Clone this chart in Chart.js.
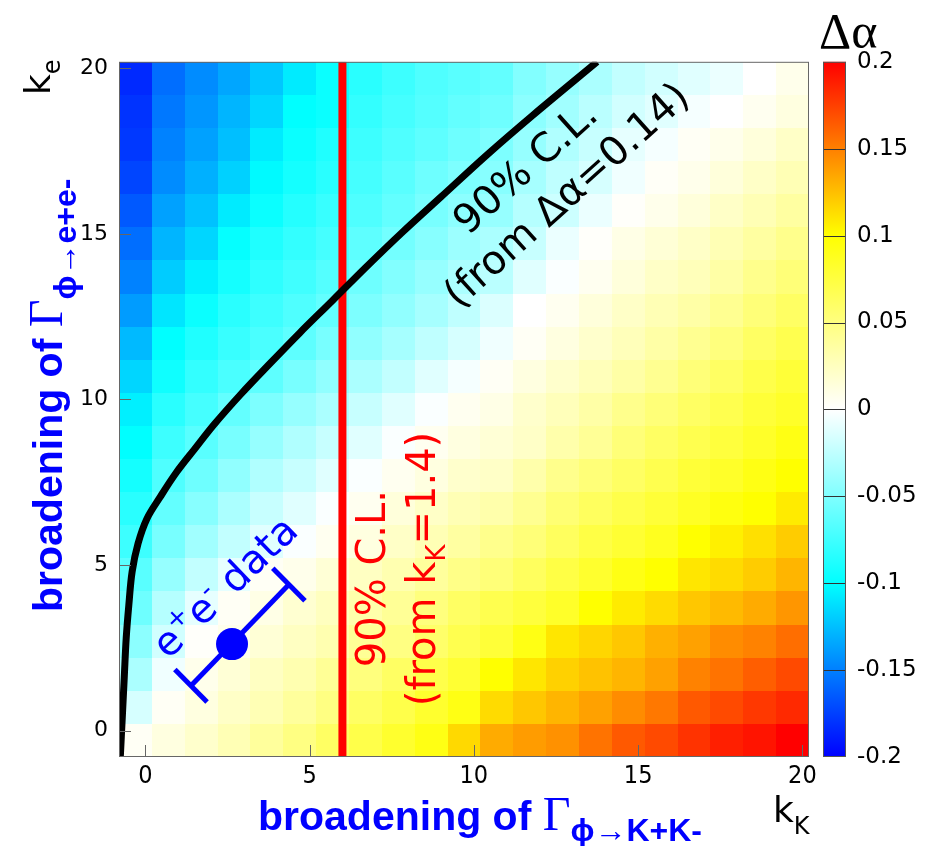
<!DOCTYPE html>
<html lang="en">
<head>
    <meta charset="UTF-8">
    <title>Delta alpha vs broadening</title>
    <script src="https://cdn.jsdelivr.net/npm/chart.js@4.4.1/dist/chart.umd.min.js"></script>
    <style>
        body { margin: 0; background: #fff; }
        canvas { display: block; }
    </style>
</head>
<body>
    <canvas id="chart" width="937" height="846"></canvas>

    <script>
        // bin centres of the scan (width 1 in both directions)
        const kKBins = [-0.3, 0.7, 1.7, 2.7, 3.7, 4.7, 5.7, 6.7, 7.7, 8.7, 9.7,
                        10.7, 11.7, 12.7, 13.7, 14.7, 15.7, 16.7, 17.7, 18.7, 19.7];
        const kEBins = [19.7, 18.7, 17.7, 16.7, 15.7, 14.7, 13.7, 12.7, 11.7, 10.7, 9.7,
                        8.7, 7.7, 6.7, 5.7, 4.7, 3.7, 2.7, 1.7, 0.7, -0.3];
        const binWidth = 1;

        // delta alpha per bin, one row per kEBins entry (top row first)
        const dAlpha = [
            [-0.184,-0.157,-0.145,-0.135,-0.122,-0.108,-0.096,-0.084,-0.076,-0.069,-0.065,-0.061,-0.049,-0.041,-0.033,-0.024,-0.018,-0.012,-0.008,0.000,0.008],
            [-0.180,-0.153,-0.141,-0.129,-0.116,-0.100,-0.096,-0.080,-0.073,-0.067,-0.061,-0.057,-0.045,-0.037,-0.027,-0.018,-0.012,-0.004,0.000,0.006,0.012],
            [-0.178,-0.149,-0.137,-0.125,-0.108,-0.096,-0.088,-0.076,-0.069,-0.063,-0.057,-0.051,-0.041,-0.031,-0.022,-0.010,-0.004,0.004,0.008,0.014,0.022],
            [-0.173,-0.145,-0.131,-0.118,-0.102,-0.092,-0.084,-0.073,-0.065,-0.057,-0.051,-0.047,-0.035,-0.025,-0.016,-0.006,0.003,0.008,0.014,0.022,0.029],
            [-0.165,-0.137,-0.124,-0.108,-0.096,-0.086,-0.078,-0.069,-0.061,-0.053,-0.045,-0.041,-0.029,-0.020,-0.008,0.002,0.008,0.014,0.022,0.029,0.037],
            [-0.157,-0.129,-0.116,-0.098,-0.088,-0.080,-0.073,-0.063,-0.055,-0.047,-0.039,-0.033,-0.022,-0.008,0.002,0.010,0.016,0.022,0.029,0.037,0.045],
            [-0.149,-0.120,-0.106,-0.092,-0.082,-0.075,-0.067,-0.057,-0.049,-0.041,-0.033,-0.027,-0.012,-0.002,0.006,0.014,0.022,0.027,0.035,0.045,0.053],
            [-0.139,-0.110,-0.096,-0.084,-0.076,-0.069,-0.061,-0.051,-0.043,-0.035,-0.025,-0.014,0.000,0.006,0.014,0.022,0.029,0.035,0.043,0.053,0.061],
            [-0.127,-0.100,-0.088,-0.078,-0.071,-0.063,-0.053,-0.043,-0.035,-0.025,-0.016,-0.006,0.004,0.012,0.020,0.027,0.035,0.043,0.051,0.061,0.069],
            [-0.116,-0.094,-0.080,-0.071,-0.063,-0.053,-0.043,-0.033,-0.024,-0.012,-0.004,0.004,0.012,0.020,0.027,0.035,0.043,0.053,0.061,0.071,0.078],
            [-0.106,-0.084,-0.073,-0.061,-0.051,-0.041,-0.033,-0.022,-0.012,-0.002,0.006,0.010,0.020,0.027,0.035,0.045,0.053,0.061,0.069,0.078,0.084],
            [-0.100,-0.076,-0.065,-0.053,-0.041,-0.031,-0.022,-0.012,-0.002,0.006,0.012,0.016,0.022,0.033,0.041,0.053,0.061,0.069,0.076,0.084,0.092],
            [-0.092,-0.069,-0.057,-0.043,-0.031,-0.022,-0.012,-0.002,0.006,0.012,0.020,0.022,0.033,0.045,0.053,0.061,0.069,0.078,0.084,0.092,0.100],
            [-0.084,-0.061,-0.047,-0.033,-0.022,-0.012,-0.002,0.006,0.014,0.022,0.029,0.033,0.043,0.055,0.063,0.071,0.078,0.086,0.094,0.100,0.108],
            [-0.076,-0.053,-0.037,-0.024,-0.012,-0.002,0.006,0.012,0.022,0.029,0.037,0.045,0.053,0.063,0.073,0.080,0.088,0.100,0.106,0.112,0.120],
            [-0.065,-0.041,-0.024,-0.010,0.004,0.008,0.016,0.024,0.031,0.039,0.047,0.053,0.063,0.073,0.082,0.092,0.100,0.110,0.114,0.120,0.129],
            [-0.057,-0.029,-0.010,0.004,0.010,0.018,0.025,0.033,0.041,0.051,0.061,0.069,0.076,0.084,0.100,0.108,0.114,0.122,0.127,0.133,0.141],
            [-0.045,-0.018,0.002,0.008,0.016,0.024,0.031,0.041,0.049,0.059,0.069,0.078,0.092,0.110,0.116,0.122,0.131,0.137,0.145,0.149,0.157],
            [-0.033,-0.006,0.008,0.016,0.024,0.031,0.041,0.051,0.061,0.071,0.080,0.100,0.110,0.118,0.124,0.129,0.137,0.149,0.155,0.163,0.171],
            [-0.016,0.004,0.012,0.022,0.029,0.039,0.049,0.061,0.071,0.082,0.092,0.114,0.122,0.129,0.137,0.145,0.153,0.165,0.171,0.178,0.184],
            [0.004,0.012,0.020,0.029,0.039,0.049,0.061,0.071,0.082,0.092,0.115,0.133,0.139,0.143,0.155,0.165,0.171,0.180,0.188,0.192,0.200]
        ];

        const xTicks = [0, 5, 10, 15, 20];
        const yTicks = [0, 5, 10, 15, 20];
        const zTicks = [-0.2, -0.15, -0.1, -0.05, 0, 0.05, 0.1, 0.15, 0.2];

        // colour palette: blue -> cyan -> white -> yellow -> red
        const paletteVals = [-0.2, -0.1, 0, 0.1, 0.2];
        const paletteRGB = [[0, 0, 255], [0, 255, 255], [255, 255, 255], [255, 255, 0], [255, 0, 0]];

        // 90% C.L. contour from delta alpha = 0.14
        const clKK = [-0.76, -0.70, -0.64, -0.58, -0.50, -0.40, -0.22, 0.05, 0.45, 0.95, 1.50, 2.10,
                      2.90, 3.75, 4.70, 5.70, 6.70, 7.80, 9.00, 10.40, 11.80, 13.75];
        const clKE = [-0.80, 0.40, 1.60, 2.80, 3.80, 4.80, 5.65, 6.40, 7.05, 7.80, 8.50, 9.25,
                      10.15, 11.04, 12.01, 12.99, 13.98, 15.03, 16.12, 17.39, 18.59, 20.20];

        // 90% C.L. limit on kK
        const kKLimit = 6.0;

        // e+e- data point with its error bar along the diagonal
        const eePoint = { x: 2.64, y: 2.61 };
        const eeErrLo = { x: 1.39, y: 1.35 };
        const eeErrHi = { x: 4.37, y: 4.41 };
        const capHalf = 0.49;

        const axisMin = -0.8, axisMax = 20.2;

        function colourFor(v) {
            v = Math.max(paletteVals[0], Math.min(paletteVals[paletteVals.length - 1], v));
            let i = 0;
            while (i < paletteVals.length - 2 && v > paletteVals[i + 1]) i++;
            const t = (v - paletteVals[i]) / (paletteVals[i + 1] - paletteVals[i]);
            const a = paletteRGB[i], b = paletteRGB[i + 1];
            const c = a.map((ch, k) => Math.round(ch + (b[k] - ch) * t));
            return `rgb(${c[0]},${c[1]},${c[2]})`;
        }

        // draw a line of text made of runs (font, size, baseline shift)
        function drawRuns(ctx, x, y, angle, runs, colour, align) {
            ctx.save();
            ctx.translate(x, y);
            ctx.rotate(angle);
            ctx.fillStyle = colour;
            ctx.textBaseline = 'alphabetic';
            ctx.textAlign = 'left';
            let total = 0;
            runs.forEach(r => { ctx.font = r.font; r.w = ctx.measureText(r.text).width; total += r.w; });
            let cx = align === 'center' ? -total / 2 : 0;
            runs.forEach(r => {
                ctx.font = r.font;
                ctx.fillText(r.text, cx, r.shift || 0);
                cx += r.w;
            });
            ctx.restore();
        }

        const heatmap = {
            id: 'heatmap',
            beforeDatasetsDraw(chart) {
                const { ctx, chartArea, scales: { x, y } } = chart;
                ctx.save();
                ctx.beginPath();
                ctx.rect(chartArea.left, chartArea.top, chartArea.right - chartArea.left, chartArea.bottom - chartArea.top);
                ctx.clip();
                kEBins.forEach((ke, r) => {
                    const yTop = Math.round(y.getPixelForValue(ke + binWidth / 2));
                    const yBot = Math.round(y.getPixelForValue(ke - binWidth / 2));
                    kKBins.forEach((kk, c) => {
                        const xL = Math.round(x.getPixelForValue(kk - binWidth / 2));
                        const xR = Math.round(x.getPixelForValue(kk + binWidth / 2));
                        ctx.fillStyle = colourFor(dAlpha[r][c]);
                        ctx.fillRect(xL, yTop, xR - xL + 1, yBot - yTop + 1);
                    });
                });
                ctx.restore();
            }
        };

        const labels = {
            id: 'labels',
            afterDatasetsDraw(chart) {
                const { ctx, scales: { x, y } } = chart;
                const f = '40px "DejaVu Sans"';
                const fs = '26px "DejaVu Sans"';
                const px = (a, b) => [x.getPixelForValue(a), y.getPixelForValue(b)];

                // contour label
                const blackAng = -42 * Math.PI / 180;
                let p = px(11.83, 17.15);
                drawRuns(ctx, p[0], p[1] + 14, blackAng, [{ text: '90% C.L.', font: f }], '#000', 'center');
                p = px(13.08, 16.31);
                drawRuns(ctx, p[0], p[1] + 14, blackAng, [{ text: '(from \u0394\u03b1=0.14)', font: f }], '#000', 'center');

                // vertical limit label
                const up = -Math.PI / 2;
                p = px(6.87, 4.59);
                drawRuns(ctx, p[0] + 14, p[1], up, [{ text: '90% C.L.', font: f }], '#ff0000', 'center');
                p = px(8.39, 4.88);
                drawRuns(ctx, p[0] + 14, p[1], up, [
                    { text: '(from k', font: f },
                    { text: 'K', font: fs, shift: 10 },
                    { text: '=1.4)', font: f }
                ], '#ff0000', 'center');

                // data point label
                p = px(2.40, 4.35);
                drawRuns(ctx, p[0] + 10, p[1] + 10, -44 * Math.PI / 180, [
                    { text: 'e', font: f },
                    { text: '+', font: fs, shift: -16 },
                    { text: 'e', font: f },
                    { text: '-', font: fs, shift: -16 },
                    { text: ' data', font: f }
                ], '#0000ff', 'center');
            },
            afterDraw(chart) {
                const { ctx, chartArea: ca, scales: { x, y, z } } = chart;

                // frame and inward tick marks
                ctx.save();
                ctx.strokeStyle = '#666';
                ctx.lineWidth = 1;
                ctx.strokeRect(ca.left + 0.5, ca.top + 0.5, ca.right - ca.left - 1, ca.bottom - ca.top - 1);
                ctx.beginPath();
                xTicks.forEach(v => {
                    const xp = Math.round(x.getPixelForValue(v)) + 0.5;
                    ctx.moveTo(xp, ca.bottom); ctx.lineTo(xp, ca.bottom - 12);
                });
                yTicks.forEach(v => {
                    const yp = Math.round(y.getPixelForValue(v)) + 0.5;
                    ctx.moveTo(ca.left, yp); ctx.lineTo(ca.left + 12, yp);
                });
                ctx.stroke();

                // colour bar
                const bx = z.left + 14, bw = 23;
                const top = z.getPixelForValue(0.2), bot = z.getPixelForValue(-0.2);
                const grad = ctx.createLinearGradient(0, bot, 0, top);
                paletteVals.forEach((v, i) => {
                    grad.addColorStop((v - paletteVals[0]) / (paletteVals[4] - paletteVals[0]), colourFor(v));
                });
                ctx.fillStyle = grad;
                ctx.fillRect(bx, top, bw, bot - top);
                ctx.strokeStyle = '#333';
                ctx.beginPath();
                zTicks.slice(1, -1).forEach(v => {
                    const yp = Math.round(z.getPixelForValue(v)) + 0.5;
                    ctx.moveTo(bx, yp); ctx.lineTo(bx + bw, yp);
                });
                ctx.stroke();
                ctx.strokeStyle = '#555';
                ctx.strokeRect(bx + 0.5, top + 0.5, bw - 1, bot - top - 1);
                ctx.restore();

                // colour bar title
                drawRuns(ctx, 819, 48, 0, [{ text: '\u0394\u03b1', font: '50px "Liberation Serif"' }], '#000', 'left');

                // x axis title
                drawRuns(ctx, 258, 830, 0, [
                    { text: 'broadening of ', font: 'bold 41px "Liberation Sans"' },
                    { text: '\u0393', font: '48px "Liberation Serif"' },
                    { text: '\u03d5\u2192K+K-', font: 'bold 32px "Liberation Sans"', shift: 11 }
                ], '#0000ff', 'left');
                drawRuns(ctx, 773, 822, 0, [
                    { text: 'k', font: '36px "DejaVu Sans"' },
                    { text: 'K', font: '24px "DejaVu Sans"', shift: 12 }
                ], '#000', 'left');

                // y axis title
                drawRuns(ctx, 62, 612, -Math.PI / 2, [
                    { text: 'broadening of ', font: 'bold 41px "Liberation Sans"' },
                    { text: '\u0393', font: '48px "Liberation Serif"' },
                    { text: '\u03d5\u2192e+e-', font: 'bold 32px "Liberation Sans"', shift: 14 }
                ], '#0000ff', 'left');
                drawRuns(ctx, 50, 95, -Math.PI / 2, [
                    { text: 'k', font: '36px "DejaVu Sans"' },
                    { text: 'e', font: '24px "DejaVu Sans"', shift: 10 }
                ], '#000', 'left');
            }
        };

        const tickFont = { family: '"DejaVu Sans"', size: 22 };

        new Chart(document.getElementById('chart'), {
            type: 'scatter',
            data: {
                datasets: [{
                    // e+e- point
                    data: [eePoint],
                    pointRadius: 16,
                    pointBackgroundColor: '#0000ff',
                    pointBorderWidth: 0,
                    order: 1
                }, {
                    data: [eeErrLo, eeErrHi],
                    showLine: true,
                    borderColor: '#0000ff',
                    borderWidth: 5,
                    pointRadius: 0,
                    order: 2
                }, {
                    data: [{ x: eeErrLo.x - capHalf, y: eeErrLo.y + capHalf }, { x: eeErrLo.x + capHalf, y: eeErrLo.y - capHalf }],
                    showLine: true,
                    borderColor: '#0000ff',
                    borderWidth: 5,
                    pointRadius: 0,
                    order: 2
                }, {
                    data: [{ x: eeErrHi.x - capHalf, y: eeErrHi.y + capHalf }, { x: eeErrHi.x + capHalf, y: eeErrHi.y - capHalf }],
                    showLine: true,
                    borderColor: '#0000ff',
                    borderWidth: 5,
                    pointRadius: 0,
                    order: 2
                }, {
                    // delta alpha contour
                    data: clKK.map((v, i) => ({ x: v, y: clKE[i] })),
                    showLine: true,
                    borderColor: '#000',
                    borderWidth: 7,
                    pointRadius: 0,
                    tension: 0.35,
                    order: 3
                }, {
                    // kK limit
                    data: [{ x: kKLimit, y: axisMin }, { x: kKLimit, y: axisMax }],
                    showLine: true,
                    borderColor: '#ff0000',
                    borderWidth: 8,
                    pointRadius: 0,
                    order: 4
                }]
            },
            options: {
                responsive: false,
                animation: false,
                layout: { padding: { top: 55, left: 0, right: 0, bottom: 0 } },
                plugins: { legend: { display: false }, tooltip: { enabled: false } },
                scales: {
                    x: {
                        type: 'linear', min: axisMin, max: axisMax,
                        afterBuildTicks: s => { s.ticks = xTicks.map(v => ({ value: v })); },
                        afterFit: s => { s.height = 89; },
                        ticks: { font: { family: '"DejaVu Sans Condensed", "DejaVu Sans"', size: 25 }, color: '#000', padding: 4, autoSkip: false, maxRotation: 0 },
                        grid: { display: false, drawTicks: false },
                        border: { display: false }
                    },
                    y: {
                        type: 'linear', min: axisMin, max: axisMax,
                        afterBuildTicks: s => { s.ticks = yTicks.map(v => ({ value: v })); },
                        afterFit: s => { s.width = 119; },
                        ticks: { font: tickFont, color: '#000', padding: 11, autoSkip: false },
                        grid: { display: false, drawTicks: false },
                        border: { display: false }
                    },
                    z: {
                        type: 'linear', position: 'right', min: -0.2, max: 0.2,
                        afterBuildTicks: s => { s.ticks = zTicks.map(v => ({ value: v })); },
                        afterFit: s => { s.width = 128; },
                        ticks: { font: { family: '"DejaVu Sans"', size: 23 }, color: '#000', padding: 48, autoSkip: false, callback: v => String(v) },
                        grid: { display: false, drawTicks: false },
                        border: { display: false }
                    }
                }
            },
            plugins: [heatmap, labels]
        });
    </script>
</body>
</html>
